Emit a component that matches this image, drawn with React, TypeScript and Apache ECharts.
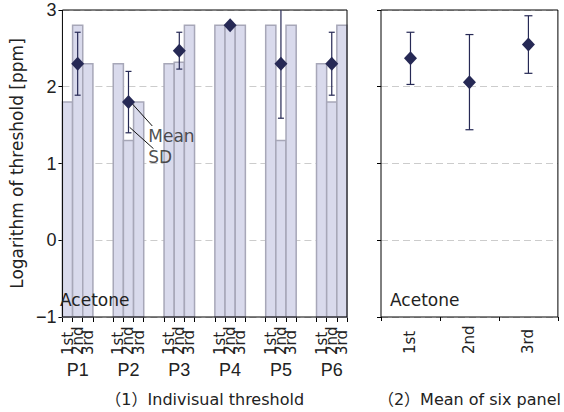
import { useEffect, useRef } from 'react';
import * as echarts from 'echarts';

// ---- data ----
const panels = ['P1', 'P2', 'P3', 'P4', 'P5', 'P6'];
const trials = ['1st', '2nd', '3rd'];
const trial1 = [1.8, 2.3, 2.3, 2.8, 2.8, 2.3];
const trial2 = [2.8, 1.3, 2.32, 2.8, 1.3, 1.8];
const trial3 = [2.3, 1.8, 2.8, 2.8, 2.8, 2.8];
const panelMean = [2.3, 1.8, 2.47, 2.8, 2.3, 2.3];
const panelSD = [0.41, 0.4, 0.24, 0, 0.71, 0.41];
const trialMean = [2.37, 2.06, 2.55];
const trialSD = [0.34, 0.62, 0.375];
const yMin = -1;
const yMax = 3;
const substance = 'Acetone';
const yName = 'Logarithm of threshold [ppm]';
const caption1 = '（1）Indivisual threshold';
const caption2 = '（2）Mean of six panel';
const noteMean = 'Mean';
const noteSD = 'SD';

// ---- layout helpers ----
const SLOT = 5; // 3 bars + 2 empty slots between panels
const xMaxLeft = panels.length * SLOT - 2;
const trialValues = [trial1, trial2, trial3];

const FONT = "'DejaVu Sans', 'Noto Sans CJK JP', sans-serif";
const NUMFONT = "'Liberation Sans', Arial, sans-serif";
const TXT = '#222';
const NAVY = '#262955';

const barData: number[][] = [];
panels.forEach((_, g) => {
  trials.forEach((_, t) => {
    barData.push([g * SLOT + t + 0.5, trialValues[t][g]]);
  });
});
const tickValues: number[] = [];
const panelCenters: number[] = [];
panels.forEach((_, g) => {
  for (let k = 0; k <= trials.length; k++) tickValues.push(g * SLOT + k);
  panelCenters.push(g * SLOT + 1.5);
});
const meanData = panelMean.map((m, g) => [g * SLOT + 1.5, m]);
const errLeft = panelMean
  .map((m, g) => [g * SLOT + 1.5, m - panelSD[g], m + panelSD[g], panelSD[g]])
  .filter((d) => d[3] > 0);
const meanRight = trialMean.map((m, i) => [i, m]);
const errRight = trialMean.map((m, i) => [i, m - trialSD[i], m + trialSD[i]]);

const fmtY = (v: number) => (v < 0 ? '\u2212' + Math.abs(v) : String(v));

const errRender = (cap: number) => (params: any, api: any) => {
  const x = api.value(0);
  const lo = api.value(1);
  const hi = api.value(2);
  const p1 = api.coord([x, hi]);
  const p2 = api.coord([x, lo]);
  const style = { stroke: NAVY, lineWidth: 1.2, fill: 'none' };
  return {
    type: 'group',
    children: [
      { type: 'line', shape: { x1: p1[0], y1: p1[1], x2: p2[0], y2: p2[1] }, style },
      { type: 'line', shape: { x1: p1[0] - cap / 2, y1: p1[1], x2: p1[0] + cap / 2, y2: p1[1] }, style },
      { type: 'line', shape: { x1: p2[0] - cap / 2, y1: p2[1], x2: p2[0] + cap / 2, y2: p2[1] }, style },
    ],
  };
};

const barRender = (params: any, api: any) => {
  const x = api.value(0);
  const v = api.value(1);
  const a = api.coord([x - 0.5, v]);
  const b = api.coord([x + 0.5, yMin]);
  return {
    type: 'rect',
    shape: { x: a[0], y: a[1], width: b[0] - a[0], height: b[1] - a[1] },
    style: { fill: '#d9daec', stroke: '#a7a7b8', lineWidth: 1.5 },
  };
};

const yAxisBase = (gridIndex: number, showLabel: boolean) => ({
  type: 'value',
  gridIndex,
  min: yMin,
  max: yMax,
  interval: 1,
  axisLine: { show: false },
  axisTick: { show: true, length: 4, lineStyle: { color: '#000' } },
  axisLabel: {
    show: showLabel,
    fontSize: 18,
    fontFamily: NUMFONT,
    color: TXT,
    margin: 6,
    formatter: fmtY,
  },
  splitLine: { show: true, lineStyle: { color: '#cccccc', type: [7, 4], width: 1 } },
});

// one hidden-line axis per trial, so that neighbouring labels never collide
const trialLabelAxes = trials.map((name, t) => ({
  type: 'value',
  gridIndex: 0,
  min: 0,
  max: xMaxLeft,
  position: 'bottom',
  axisLine: { show: false, onZero: false },
  axisTick: t === 0
    ? { show: true, customValues: tickValues, length: 5, lineStyle: { color: '#000' } }
    : { show: false },
  axisLabel: {
    customValues: panels.map((_, g) => g * SLOT + t + 0.5),
    rotate: 90,
    align: 'left',
    margin: 38,
    fontSize: 15,
    fontFamily: FONT,
    color: TXT,
    showMinLabel: true,
    showMaxLabel: true,
    formatter: () => name,
  },
  splitLine: { show: false },
}));

export default function App() {
  const ref = useRef<HTMLDivElement>(null);
  useEffect(() => {
    if (!ref.current) return;
    const chart = echarts.init(ref.current, undefined, { renderer: 'svg' });
    const option: any = {
      animation: false,
      textStyle: { fontFamily: FONT, color: TXT },
      grid: [
        { left: 53, top: 10, width: 294, height: 307, show: true, borderColor: '#000', borderWidth: 1, backgroundColor: 'transparent', z: 3 },
        { left: 381, top: 10, width: 185, height: 307, show: true, borderColor: '#000', borderWidth: 1, backgroundColor: 'transparent', z: 3 },
      ],
      xAxis: [
        ...trialLabelAxes,
        {
          type: 'value',
          gridIndex: 0,
          min: 0,
          max: xMaxLeft,
          position: 'bottom',
          axisLine: { show: false, onZero: false },
          axisTick: { show: false },
          axisLabel: {
            customValues: panelCenters,
            margin: 44,
            fontSize: 18,
            fontFamily: NUMFONT,
            color: TXT,
            showMinLabel: true,
            showMaxLabel: true,
            formatter: (v: number) => panels[Math.floor(v / SLOT)],
          },
          splitLine: { show: false },
          name: caption1,
          nameLocation: 'middle',
          nameGap: 74,
          nameTextStyle: { fontSize: 16, fontFamily: FONT, color: TXT },
        },
        {
          type: 'category',
          gridIndex: 1,
          data: trials,
          position: 'bottom',
          boundaryGap: true,
          axisLine: { show: false, onZero: false },
          axisTick: { show: true, length: 4, lineStyle: { color: '#000' } },
          axisLabel: {
            rotate: 90,
            align: 'left',
            margin: 37,
            fontSize: 15,
            fontFamily: FONT,
            color: TXT,
            interval: 0,
          },
          splitLine: { show: false },
          name: caption2,
          nameLocation: 'middle',
          nameGap: 74,
          nameTextStyle: { fontSize: 16, fontFamily: FONT, color: TXT },
        },
      ],
      yAxis: [
        {
          ...yAxisBase(0, true),
          name: yName,
          nameLocation: 'middle',
          nameGap: 27,
          nameTextStyle: { fontSize: 17, fontFamily: FONT, color: TXT },
        },
        yAxisBase(1, false),
      ],
      series: [
        {
          type: 'custom',
          name: 'bars',
          xAxisIndex: 0,
          yAxisIndex: 0,
          renderItem: barRender,
          encode: { x: 0, y: 1 },
          data: barData,
          z: 2,
        },
        {
          type: 'custom',
          name: 'sd-left',
          xAxisIndex: 0,
          yAxisIndex: 0,
          clip: true,
          renderItem: errRender(6),
          encode: { x: 0, y: [1, 2] },
          data: errLeft,
          z: 4,
        },
        {
          type: 'scatter',
          name: 'mean-left',
          xAxisIndex: 0,
          yAxisIndex: 0,
          symbol: 'diamond',
          symbolSize: [13, 14],
          itemStyle: { color: NAVY, opacity: 1 },
          data: meanData,
          z: 5,
          markLine: {
            silent: true,
            symbol: ['none', 'none'],
            label: { show: false },
            lineStyle: { color: '#111', width: 1, type: 'solid', opacity: 1 },
            data: [
              [{ coord: [6.83, 1.784] }, { coord: [8.84, 1.489] }],
              [{ coord: [6.61, 1.472] }, { coord: [8.96, 1.193] }],
            ],
          },
        },
        {
          type: 'scatter',
          name: 'notes',
          xAxisIndex: 0,
          yAxisIndex: 0,
          symbolSize: 1,
          itemStyle: { color: 'rgba(0,0,0,0)' },
          label: {
            show: true,
            position: 'right',
            distance: 0,
            fontSize: 17,
            fontFamily: FONT,
            color: TXT,
            formatter: (p: any) => p.value[2],
          },
          data: [
            [8.4, 1.358, noteMean],
            [8.4, 1.085, noteSD],
          ],
          z: 6,
        },
        {
          type: 'custom',
          name: 'sd-right',
          xAxisIndex: 4,
          yAxisIndex: 1,
          clip: true,
          renderItem: errRender(8),
          encode: { x: 0, y: [1, 2] },
          data: errRight,
          z: 4,
        },
        {
          type: 'scatter',
          name: 'mean-right',
          xAxisIndex: 4,
          yAxisIndex: 1,
          symbol: 'diamond',
          symbolSize: [13, 14],
          itemStyle: { color: NAVY, opacity: 1 },
          data: meanRight,
          z: 5,
        },
      ],
      graphic: [
        { type: 'text', left: 60, top: 291, z: 10, style: { text: substance, font: `17px ${FONT}`, fill: TXT } },
        { type: 'text', left: 390, top: 291, z: 10, style: { text: substance, font: `17px ${FONT}`, fill: TXT } },
      ],
    };
    chart.setOption(option);
    return () => chart.dispose();
  }, []);
  return (
    <div
      ref={ref}
      style={{ position: 'fixed', left: 0, top: 0, width: 564, height: 412, background: '#fff' }}
    />
  );
}
